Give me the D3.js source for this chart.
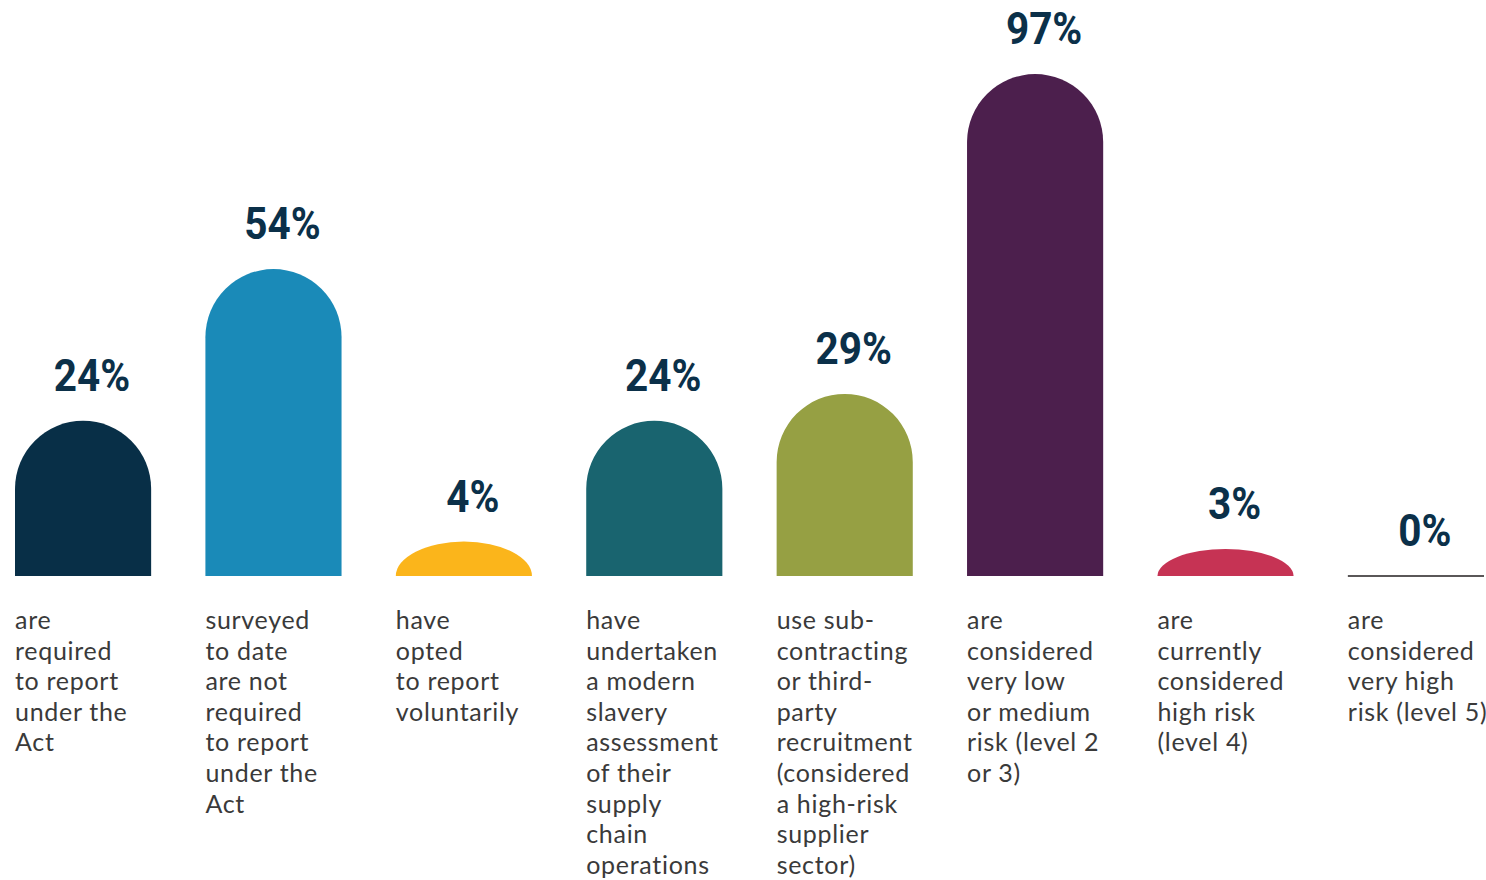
<!DOCTYPE html>
<html>
<head>
<meta charset="utf-8">
<script src="https://cdn.jsdelivr.net/npm/d3@7"></script>
<style>
  html, body { margin: 0; padding: 0; background: #fff; }
  svg { display: block; }
</style>
</head>
<body>
<svg id="chart" width="1486" height="880"></svg>
<script>
// categories (ids) and values in percent
var categories = ["required", "notRequired", "voluntary", "assessment", "subcontracting", "lowMedium", "high", "veryHigh"];
var values = [24, 54, 4, 24, 29, 97, 3, 0];
var colors = ["#082f47", "#1a8ab8", "#fbb51b", "#19646f", "#96a043", "#4c1f4d", "#c63354", "#231f20"];

// description under each bar, one entry per line
var descriptions = [
	["are", "required", "to report", "under the", "Act"],
	["surveyed", "to date", "are not", "required", "to report", "under the", "Act"],
	["have", "opted", "to report", "voluntarily"],
	["have", "undertaken", "a modern", "slavery", "assessment", "of their", "supply", "chain", "operations"],
	["use sub-", "contracting", "or third-", "party", "recruitment", "(considered", "a high-risk", "supplier", "sector)"],
	["are", "considered", "very low", "or medium", "risk (level 2", "or 3)"],
	["are", "currently", "considered", "high risk", "(level 4)"],
	["are", "considered", "very high", "risk (level 5)"]
];

var svg = d3.select("#chart");
var baseline = 576;

// bands for the bars
var x = d3.scaleBand()
	.domain(categories)
	.range([15, 1484])
	.paddingInner(0.285)
	.paddingOuter(0);

// bar heights, the art is drawn on a softened scale
var h = d3.scalePow()
	.exponent(0.84)
	.domain([0, 100])
	.range([0, 515]);

var w = x.bandwidth();

// rounded top bar: semicircle cap, flattened to an ellipse for short bars
function barPath(d, i) {
	var x0 = x(categories[i]);
	var hh = h(d);
	var rx = w / 2;
	var ry = Math.min(rx, hh);
	return "M" + x0 + "," + baseline +
		"V" + (baseline - hh + ry) +
		"A" + rx + "," + ry + " 0 0 1 " + (x0 + w) + "," + (baseline - hh + ry) +
		"V" + baseline + "Z";
}

var groups = svg.selectAll(".bar")
	.data(values)
	.enter()
	.append("g")
	.attr("class", "bar");

groups.each(function(d, i) {
	var g = d3.select(this);
	if (d > 0) {
		g.append("path")
			.attr("d", barPath(d, i))
			.attr("fill", colors[i]);
	} else {
		// nothing to draw but a flat line on the baseline
		g.append("line")
			.attr("x1", x(categories[i]))
			.attr("x2", x(categories[i]) + w)
			.attr("y1", baseline)
			.attr("y2", baseline)
			.attr("stroke", colors[i])
			.attr("stroke-width", 1.5);
	}
});

// value labels, squeezed to look like a condensed face
groups.append("text")
	.attr("transform", (d, i) => "translate(" + (x(categories[i]) + w / 2 + 9) + "," + (baseline - h(d) - 30) + ") scale(0.9,1)")
	.attr("text-anchor", "middle")
	.attr("font-family", "Roboto, sans-serif")
	.attr("font-weight", "bold")
	.attr("font-size", 45)
	.attr("fill", "#0b3049")
	.text(d => d + "%");

// descriptions
groups.append("text")
	.attr("x", (d, i) => x(categories[i]))
	.attr("y", 629)
	.attr("font-family", "Lato, sans-serif")
	.attr("font-size", 25)
	.attr("letter-spacing", 0.7)
	.attr("fill", "#3a3a3a")
	.selectAll("tspan")
	.data((d, i) => descriptions[i])
	.enter()
	.append("tspan")
	.attr("x", function() { return d3.select(this.parentNode).attr("x"); })
	.attr("dy", (d, j) => j === 0 ? 0 : 30.6)
	.text(d => d);
</script>
</body>
</html>
